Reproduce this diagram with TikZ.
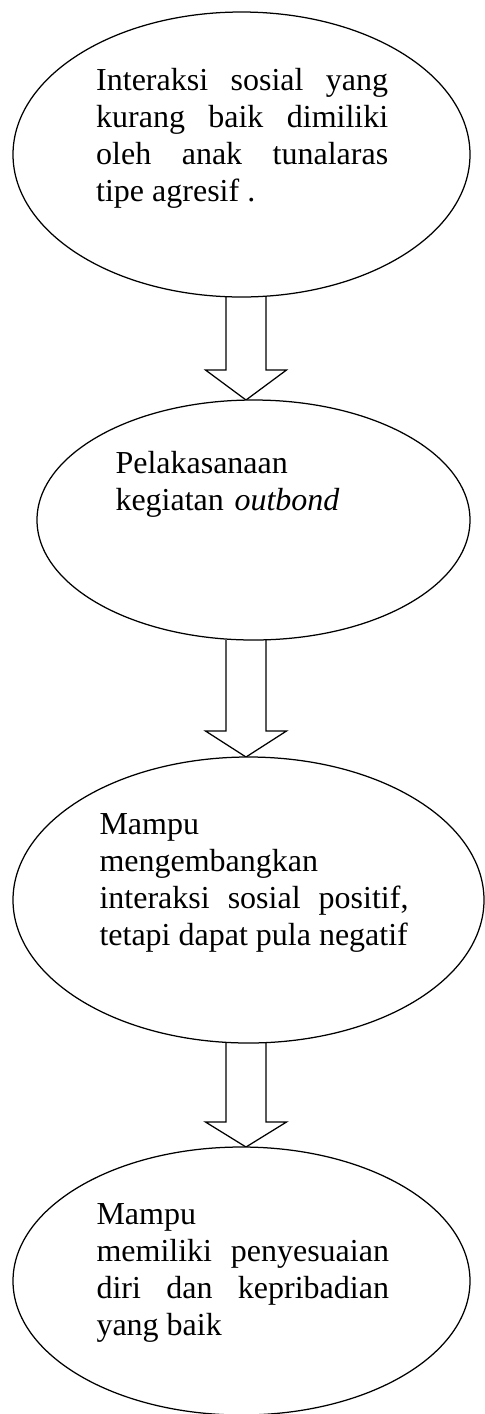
\documentclass[tikz,border=0pt]{standalone}
\usepackage{fontspec}
\setmainfont{Liberation Serif}
\usetikzlibrary{shapes.geometric,calc,backgrounds}

\newcommand{\fatarrow}[3]{%
\draw[fat] ($(#1.south -| ax)+(-20,0)$) -- ($(#2.north -| ax)+(-20,-#3)$) -- ++(-20.5,0) -- (#2.north -| ax) -- ++(40.5,-#3) -- ++(-20.5,0) -- ($(#1.south -| ax)+(20,0)$);}

\begin{document}
\begin{tikzpicture}[x=0.4pt,y=-0.4pt,blob/.style={shape=ellipse,draw=black,line width=0.5pt,fill=white,inner sep=0pt,outer sep=0pt},txt/.style={anchor=base west,inner sep=0pt,align=justify,font=\fontsize{12.8}{14.9}\selectfont},fat/.style={draw=black,line width=0.5pt,fill=white,line join=miter}]
\def\px{0.4pt};
\useasboundingbox (0,0) rectangle (485,1414);
\coordinate (ax) at (246,0);

\node[blob,minimum width=457*\px,minimum height=285*\px] (e1) at (241.5,154.5) {};
\node[txt,text width=116.8pt] (t1) at (95.7,90) {Interaksi sosial yang\linebreak kurang baik dimiliki\linebreak oleh anak tunalaras\linebreak tipe agresif .};

\node[blob,minimum width=433*\px,minimum height=240*\px] (e2) at (253.5,520) {};
\node[txt,text width=130pt,align=left] (t2) at (115,473) {Pelakasanaan\\ kegiatan \textit{outbond}};

\node[blob,minimum width=471*\px,minimum height=286*\px] (e3) at (248.5,900) {};
\node[txt,text width=123.6pt] (t3) at (99,834) {Mampu\\ mengembangkan\\ interaksi sosial positif,\linebreak tetapi dapat pula negatif};

\node[blob,minimum width=457*\px,minimum height=268*\px] (e4) at (241.5,1281) {};
\node[txt,text width=117pt] (t4) at (96,1224) {Mampu\\ memiliki penyesuaian\linebreak diri dan kepribadian\linebreak yang baik};

\begin{scope}[on background layer]
\fatarrow{e1}{e2}{30}
\fatarrow{e2}{e3}{26}
\fatarrow{e3}{e4}{25}
\end{scope}
\end{tikzpicture}
\end{document}
